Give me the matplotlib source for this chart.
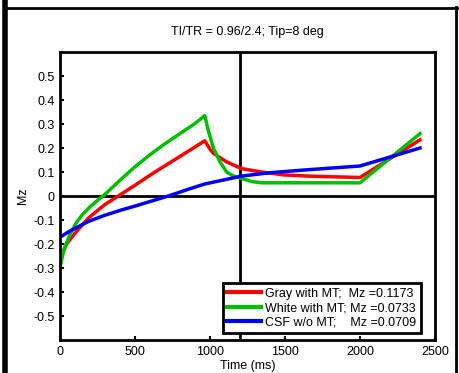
import matplotlib
matplotlib.use("Agg")
import matplotlib.pyplot as plt
from matplotlib.lines import Line2D

plt.rcParams['font.family'] = ['Liberation Sans', 'DejaVu Sans']

# Data
gray_t = [0, 11, 44, 100, 189, 300, 389, 500, 633, 800, 965,
          1000, 1022, 1111, 1211, 1344, 1489, 1650, 1822, 2000, 2400]
gray_mz = [-0.27, -0.245, -0.20, -0.155, -0.092, -0.035, 0.0, 0.045, 0.10, 0.165, 0.23,
           0.195, 0.178, 0.142, 0.114, 0.10, 0.088, 0.083, 0.08, 0.077, 0.234]

white_t = [0, 8, 20, 40, 70, 110, 150, 200, 250, 300, 411, 500, 600, 700, 800, 900, 965,
           990, 1022, 1067, 1111, 1150, 1211, 1280, 1344, 2000, 2400]
white_mz = [-0.30, -0.275, -0.24, -0.20, -0.155, -0.11, -0.077, -0.045, -0.018, 0.007, 0.072, 0.122,
            0.172, 0.218, 0.26, 0.302, 0.335,
            0.27, 0.20, 0.142, 0.10, 0.085, 0.073, 0.06, 0.055, 0.055, 0.26]

csf_t = [0, 50, 100, 189, 300, 411, 500, 600, 722, 850, 965,
         1100, 1211, 1400, 1600, 1800, 2000, 2400]
csf_mz = [-0.172, -0.152, -0.135, -0.106, -0.08, -0.058, -0.042, -0.023, 0.0, 0.027, 0.05,
          0.068, 0.083, 0.097, 0.107, 0.116, 0.125, 0.2]

labels = ["Gray with MT;  Mz =0.1173", "White with MT; Mz =0.0733", "CSF w/o MT;    Mz =0.0709"]
colors = ["#ff0000", "#00c000", "#0000ff"]
title = "TI/TR = 0.96/2.4; Tip=8 deg"
ti_marker = 1200
xticks = [0, 500, 1000, 1500, 2000, 2500]
yticks = [-0.5, -0.4, -0.3, -0.2, -0.1, 0, 0.1, 0.2, 0.3, 0.4, 0.5]

W, H = 460, 373
fig = plt.figure(figsize=(W / 100, H / 100), dpi=100)
ax = fig.add_axes([60 / W, 1 - 340 / H, 375 / W, 288 / H])

lw = 2.5
for t, m, c, lab in zip([gray_t, white_t, csf_t], [gray_mz, white_mz, csf_mz], colors, labels):
    ax.plot(t, m, color=c, lw=lw, label=lab, solid_joinstyle='round')

ax.axvline(ti_marker, color='black', lw=2, zorder=1)
ax.axhline(0, color='black', lw=2, zorder=1)

ax.set_xlim(0, 2500)
ax.set_ylim(-0.6, 0.6)
ax.set_xticks(xticks)
ax.set_yticks(yticks)
ax.set_yticklabels([("%g" % v) for v in yticks])
ax.tick_params(direction='in', length=3, width=1.5, labelsize=9, pad=4)
for s in ax.spines.values():
    s.set_linewidth(2)
ax.set_xlabel("Time (ms)", fontsize=9, labelpad=2)
ax.set_ylabel("Mz", fontsize=9, labelpad=3)
ax.set_title(title, fontsize=9, pad=12)

leg = ax.legend(loc='lower right', bbox_to_anchor=((421 - 60) / 375, 7 / 288),
                fontsize=9, frameon=True, fancybox=False, framealpha=1,
                handlelength=2.7, handletextpad=0.35, borderpad=0.35, labelspacing=0.2,
                borderaxespad=0.0)
leg.get_frame().set_edgecolor('black')
leg.get_frame().set_linewidth(2)
for h in leg.get_lines():
    h.set_linewidth(3)

# figure border frame
fig.add_artist(Line2D([4.5 / W, 4.5 / W], [0, 1], transform=fig.transFigure, color='black', lw=4))
fig.add_artist(Line2D([4 / W, 457 / W], [1 - 8 / H, 1 - 8 / H], transform=fig.transFigure, color='black', lw=2))
fig.add_artist(Line2D([456 / W, 456 / W], [0, 1 - 7 / H], transform=fig.transFigure, color='black', lw=2))

fig.savefig("out.png", dpi=100)
